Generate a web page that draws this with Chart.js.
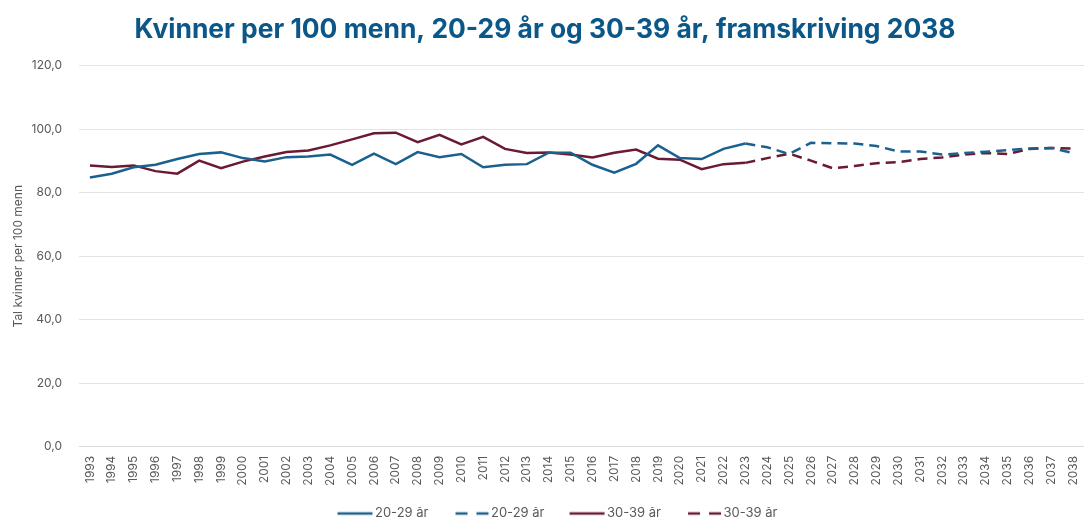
<!DOCTYPE html>
<html>
<head>
<meta charset="utf-8">
<script src="https://cdn.jsdelivr.net/npm/chart.js@4/dist/chart.umd.min.js"></script>
<style>
  html, body { margin: 0; padding: 0; background: #fff; }
  #wrap { width: 1084px; height: 518px; }
</style>
</head>
<body>
<div id="wrap"><canvas id="chart"></canvas></div>
<script>
"use strict";

const YEARS = [];
for (let y = 1993; y <= 2038; y++) YEARS.push(String(y));

// Historiske tal 1993–2023
const HIST_20_29 = [84.8, 86.0, 88.0, 88.8, 90.6, 92.2, 92.7, 90.9, 89.8, 91.2,
                    91.4, 92.0, 88.8, 92.3, 89.0, 92.8, 91.2, 92.2, 88.0, 88.8,
                    89.0, 92.6, 92.6, 88.8, 86.3, 89.1, 94.9, 90.9, 90.6, 93.8, 95.5];
const HIST_30_39 = [88.6, 88.1, 88.6, 86.8, 86.0, 90.1, 87.7, 89.8, 91.4, 92.8,
                    93.3, 94.9, 96.8, 98.7, 98.9, 95.9, 98.2, 95.2, 97.6, 93.8,
                    92.5, 92.7, 92.0, 91.1, 92.6, 93.6, 90.7, 90.4, 87.4, 89.0, 89.4];
// Framskriving 2023–2038
const PROJ_20_29 = [95.5, 94.3, 92.2, 95.7, 95.6, 95.5, 94.7, 93.0, 93.0, 92.0,
                    92.5, 92.9, 93.4, 93.9, 94.1, 92.5];
const PROJ_30_39 = [89.4, 90.9, 92.3, 90.1, 87.7, 88.4, 89.3, 89.6, 90.6, 91.1,
                    92.0, 92.5, 92.2, 93.8, 94.1, 93.9];

const Y_TICKS = [0, 20, 40, 60, 80, 100, 120];

const BLUE = "#1b6190";
const WINE = "#6a1a33";
const GREY = "#595959";
const DASH = [10, 6];

const HIST_END = 30; // index of 2023

function padHist(arr) {
  return YEARS.map((_, i) => (i <= HIST_END ? arr[i] : null));
}
function padProj(arr) {
  return YEARS.map((_, i) => (i >= HIST_END ? arr[i - HIST_END] : null));
}

// Legend marker: blank space on the left (item spacing), line on the right
function legendMarker(color, dashed) {
  const c = document.createElement("canvas");
  c.width = 74; c.height = 6;
  const g = c.getContext("2d");
  g.strokeStyle = color;
  g.lineWidth = 2.5;
  if (dashed) g.setLineDash([12, 9]);
  g.beginPath();
  g.moveTo(dashed ? 36 : 34, 3);
  g.lineTo(69, 3);
  g.stroke();
  return c;
}

const base = { pointRadius: 0, borderWidth: 2.5, fill: false, tension: 0, spanGaps: false };

new Chart(document.getElementById("chart").getContext("2d"), {
  type: "line",
  data: {
    labels: YEARS,
    datasets: [
      { ...base, label: "20-29 år", data: padHist(HIST_20_29), borderColor: BLUE, backgroundColor: BLUE },
      { ...base, label: "20-29 år", data: padProj(PROJ_20_29), borderColor: BLUE, backgroundColor: BLUE, borderDash: DASH },
      { ...base, label: "30-39 år", data: padHist(HIST_30_39), borderColor: WINE, backgroundColor: WINE },
      { ...base, label: "30-39 år", data: padProj(PROJ_30_39), borderColor: WINE, backgroundColor: WINE, borderDash: DASH },
    ],
  },
  options: {
    responsive: true,
    maintainAspectRatio: false,
    animation: false,
    layout: { padding: { left: 6, right: 0, top: 4, bottom: -12 } },
    plugins: {
      title: {
        display: true,
        text: "Kvinner per 100 menn, 20-29 år og 30-39 år, framskriving 2038",
        color: "#0b5788",
        font: { family: "Inter", size: 26.4, weight: "bold" },
        padding: { top: 10, bottom: 20 },
      },
      legend: {
        position: "bottom",
        labels: {
          color: GREY,
          font: { family: "Inter", size: 13 },
          usePointStyle: true,
          pointStyleWidth: 56,
          boxHeight: 6,
          padding: 0,
          generateLabels: (chart) => chart.data.datasets.map((ds, i) => ({
            text: ds.label,
            fillStyle: ds.borderColor,
            strokeStyle: ds.borderColor,
            fontColor: GREY,
            lineWidth: 0,
            pointStyle: legendMarker(ds.borderColor, !!ds.borderDash),
            hidden: false,
            datasetIndex: i,
          })),
        },
      },
      tooltip: { enabled: false },
    },
    scales: {
      x: {
        offset: true,
        afterFit: (axis) => { axis.paddingRight = 0; axis.paddingLeft = 0; axis.height += 12; },
        grid: { display: false, drawTicks: false },
        border: { color: "#d9d9d9" },
        ticks: {
          color: GREY,
          font: { family: "Inter", size: 12 },
          maxRotation: 90,
          minRotation: 90,
          autoSkip: false,
          padding: 9,
        },
      },
      y: {
        min: 0,
        max: 120,
        afterBuildTicks: (axis) => { axis.ticks = Y_TICKS.map(v => ({ value: v })); },
        afterFit: (axis) => { axis.width = 73; },
        grid: { color: "#e3e3e3", drawTicks: false },
        border: { display: false },
        title: {
          display: true,
          text: "Tal kvinner per 100 menn",
          color: GREY,
          font: { family: "Inter", size: 12 },
          padding: { top: 5, bottom: 0 },
        },
        ticks: {
          color: GREY,
          font: { family: "Inter", size: 12 },
          padding: 17,
          callback: (v) => Number(v).toFixed(1).replace(".", ","),
        },
      },
    },
  },
});
</script>
</body>
</html>
